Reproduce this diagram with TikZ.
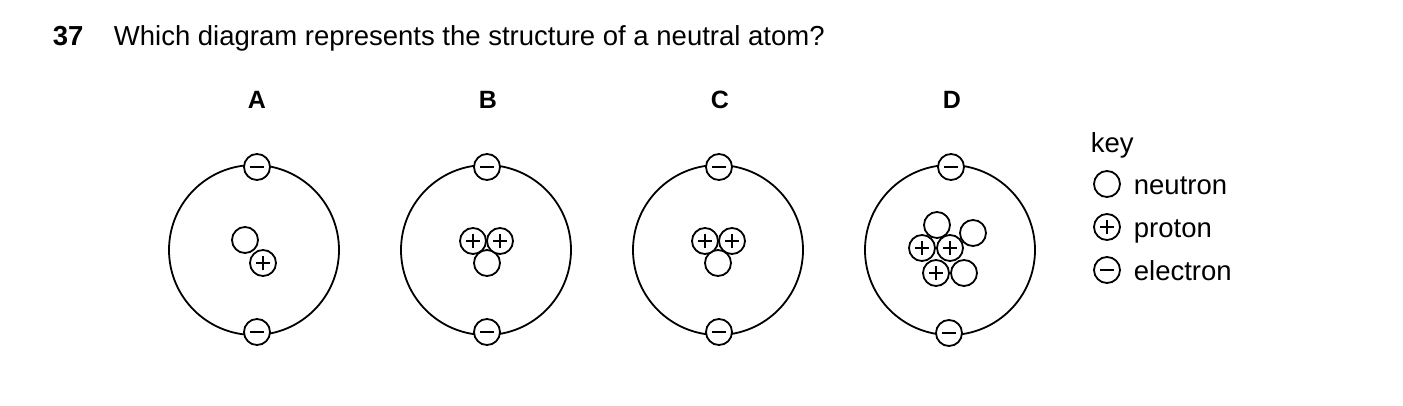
\documentclass[tikz,border=0pt]{standalone}
\usepackage{fontspec}
\setmainfont{Liberation Sans}
\begin{document}
\begin{tikzpicture}[x=1pt,y=-1pt,line width=1.8pt,
  orb/.style={circle,draw,minimum size=170pt,inner sep=0pt},
  neu/.style={circle,draw,fill=white,minimum size=26pt,inner sep=0pt},
  pro/.style={neu,path picture={\draw[line width=1.6pt] ([xshift=-7pt]path picture bounding box.center)--([xshift=7pt]path picture bounding box.center) ([yshift=-7pt]path picture bounding box.center)--([yshift=7pt]path picture bounding box.center);}},
  ele/.style={neu,path picture={\draw[line width=1.6pt] ([xshift=-7pt]path picture bounding box.center)--([xshift=7pt]path picture bounding box.center);}},
  lab/.style={font=\fontsize{25}{30}\selectfont\bfseries},
  txt/.style={font=\fontsize{27.5}{32}\selectfont,anchor=base west,inner sep=0pt}]
\useasboundingbox (0,0) rectangle (1403,405);
\node[txt] (q) at (52,45) {\textbf{37}};
\node[txt] (qt) at (113,45) {Which diagram represents the structure of a neutral atom?};
\node[lab] (lA) at (257,100) {A};
\node[lab] (lB) at (488,100) {B};
\node[lab] (lC) at (720,100) {C};
\node[lab] (lD) at (952,100) {D};
% A
\node[orb] (oA) at (254,250) {};
\node[ele] (eA1) at (257,167) {};
\node[ele] (eA2) at (257,332) {};
\node[neu] (nA) at (245,240) {};
\node[pro] (pA) at (263,263) {};
% B
\node[orb] (oB) at (486,250) {};
\node[ele] (eB1) at (487,167) {};
\node[ele] (eB2) at (487,332) {};
\node[neu] (nB) at (487,263) {};
\node[pro] (pB1) at (473,241) {};
\node[pro] (pB2) at (500,241) {};
% C
\node[orb] (oC) at (718,250) {};
\node[ele] (eC1) at (719,167) {};
\node[ele] (eC2) at (719,332) {};
\node[neu] (nC) at (718,263) {};
\node[pro] (pC1) at (705,241) {};
\node[pro] (pC2) at (732,241) {};
% D
\node[orb] (oD) at (950,250) {};
\node[ele] (eD1) at (951,167) {};
\node[ele] (eD2) at (949,333) {};
\node[neu] (nD1) at (937,225) {};
\node[neu] (nD2) at (973,233) {};
\node[pro] (pD1) at (922,248) {};
\node[pro] (pD2) at (950,248) {};
\node[pro] (pD3) at (936,273) {};
\node[neu] (nD3) at (964,273) {};
% key
\node[txt] (k) at (1090,152) {key};
\node[neu] (kn) at (1107,184) {};
\node[txt] (knt) at (1133,194) {neutron};
\node[pro] (kp) at (1107,227) {};
\node[txt] (kpt) at (1133,237) {proton};
\node[ele] (ke) at (1107,270) {};
\node[txt] (ket) at (1133,280) {electron};
\end{tikzpicture}
\end{document}
